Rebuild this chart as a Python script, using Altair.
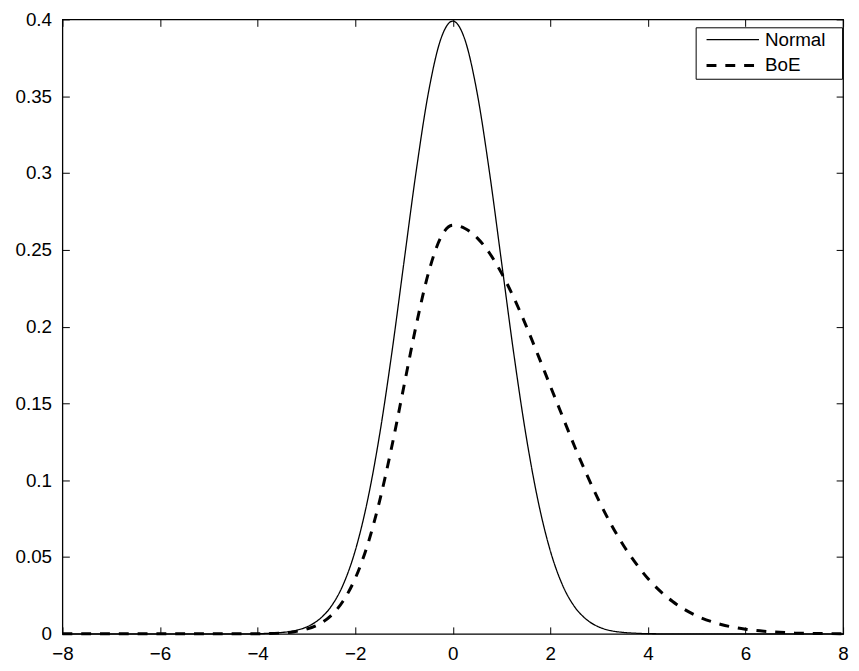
import altair as alt
import pandas as pd

# ---- data ----
series_names = ["Normal", "BoE"]

normal_x = [-8, -7, -6, -5, -4.5, -4, -3.75, -3.5, -3.25, -3, -2.75, -2.5, -2.25, -2, -1.75,
            -1.5, -1.25, -1, -0.75, -0.5, -0.25, 0, 0.25, 0.5, 0.75, 1, 1.25, 1.5, 1.75, 2,
            2.25, 2.5, 2.75, 3, 3.25, 3.5, 3.75, 4, 4.5, 5, 6, 7, 8]
normal_y = [0, 0, 0, 0, 0, 0.0001, 0.0004, 0.0009, 0.0020, 0.0044, 0.0091, 0.0175, 0.0317, 0.0540,
            0.0863, 0.1295, 0.1826, 0.2420, 0.3011, 0.3521, 0.3867, 0.3989, 0.3867, 0.3521, 0.3011,
            0.2420, 0.1826, 0.1295, 0.0863, 0.0540, 0.0317, 0.0175, 0.0091, 0.0044, 0.0020, 0.0009,
            0.0004, 0.0001, 0, 0, 0, 0, 0]

boe_x = [-8, -7, -6, -5, -4.5, -4, -3.75, -3.5, -3.25, -3, -2.75, -2.5, -2.25, -2, -1.75, -1.5,
         -1.25, -1, -0.75, -0.5, -0.25, 0, 0.25, 0.5, 0.75, 1, 1.25, 1.5, 1.75, 2, 2.25, 2.5,
         2.75, 3, 3.25, 3.5, 3.75, 4, 4.5, 5, 5.5, 6, 6.5, 7, 7.5, 8]
boe_y = [0, 0, 0, 0, 0, 0.0001, 0.0002, 0.0006, 0.0014, 0.0030, 0.0061, 0.0117, 0.0212, 0.0360,
         0.0575, 0.0864, 0.1218, 0.1613, 0.2008, 0.2347, 0.2578, 0.2660, 0.2639, 0.2578, 0.2480,
         0.2348, 0.2189, 0.2008, 0.1813, 0.1613, 0.1415, 0.1218, 0.1035, 0.0864, 0.0710, 0.0575,
         0.0460, 0.0360, 0.0212, 0.0117, 0.0061, 0.0030, 0.0014, 0.0006, 0.0002, 0.0001]

x_ticks = [-8, -6, -4, -2, 0, 2, 4, 6, 8]
y_ticks = [0, 0.05, 0.1, 0.15, 0.2, 0.25, 0.3, 0.35, 0.4]

df = pd.concat([
    pd.DataFrame({"x": normal_x, "y": normal_y, "series": series_names[0]}),
    pd.DataFrame({"x": boe_x, "y": boe_y, "series": series_names[1]}),
], ignore_index=True)

W, H = 789, 621
FONT = "Liberation Sans"

xscale = alt.Scale(domain=[-8, 8], nice=False, zero=False)
yscale = alt.Scale(domain=[0, 0.4], nice=False, zero=False)

legend = alt.Legend(
    orient="none", legendX=640, legendY=8, title=None,
    symbolType="M-0.1875,0H6.4375M15.69,0", symbolSize=256,
    symbolStrokeColor="black", symbolOffset=0,
    labelFont=FONT, labelFontSize=19, labelColor="black", labelOffset=48,
    padding=3, rowPadding=6, strokeColor="black", fillColor="white",
)

label_axis_common = dict(labelFont=FONT, labelFontSize=19, labelColor="black",
                         ticks=False, tickSize=0, domain=False, grid=False, title=None,
                         labelPadding=11, labelOverlap=False, labelFlush=False, labelBound=False)
tick_axis_common = dict(labels=False, ticks=True, tickSize=7, tickColor="black", tickWidth=1,
                        domain=False, grid=False, title=None)

lines = alt.Chart(df).mark_line(color="black", interpolate="monotone", strokeCap="butt").encode(
    x=alt.X("x:Q", scale=xscale, axis=alt.Axis(values=x_ticks, format="d", orient="bottom",
                                               **label_axis_common)),
    y=alt.Y("y:Q", scale=yscale, axis=alt.Axis(values=y_ticks, format="~g", orient="left",
                                               **label_axis_common)),
    strokeDash=alt.StrokeDash("series:N", scale=alt.Scale(domain=series_names, range=[[1, 0], [10, 9]]),
                              legend=legend),
    strokeWidth=alt.StrokeWidth("series:N", scale=alt.Scale(domain=series_names, range=[1.3, 3]),
                                legend=legend),
    detail="series:N",
)

ticks_a = alt.Chart(df).mark_point(opacity=0).encode(
    x=alt.X("x:Q", scale=xscale, axis=alt.Axis(values=x_ticks, orient="top", offset=-H, **tick_axis_common)),
    y=alt.Y("y:Q", scale=yscale, axis=alt.Axis(values=y_ticks, orient="right", offset=-W, **tick_axis_common)),
)
ticks_b = alt.Chart(df).mark_point(opacity=0).encode(
    x=alt.X("x:Q", scale=xscale, axis=alt.Axis(values=x_ticks, orient="bottom", offset=-H, **tick_axis_common)),
    y=alt.Y("y:Q", scale=yscale, axis=alt.Axis(values=y_ticks, orient="left", offset=-W, **tick_axis_common)),
)

chart = alt.layer(lines, ticks_a, ticks_b).resolve_axis(
    x="independent", y="independent"
).properties(
    width=W, height=H,
    autosize=alt.AutoSizeParams(type="none"),
    padding={"left": 55, "top": 8, "right": 8, "bottom": 30},
    background="white",
).configure_view(stroke="black", strokeWidth=1.3)

chart.save("out.html", embed_options={"renderer": "svg", "actions": False})
